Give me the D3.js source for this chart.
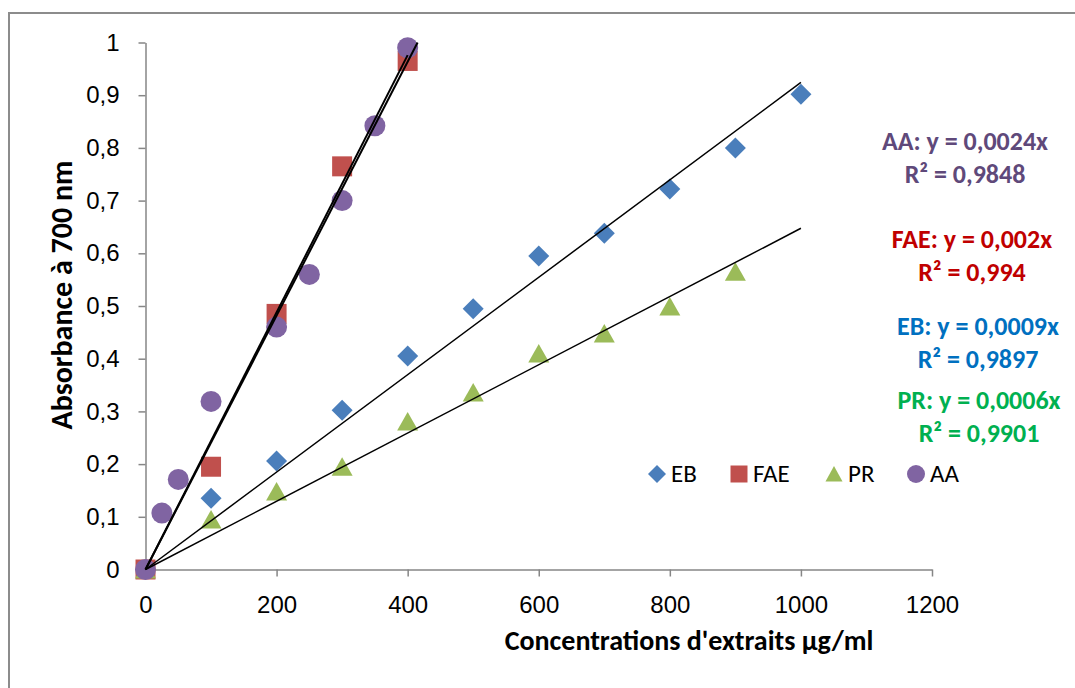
<!DOCTYPE html>
<html>
<head>
<meta charset="utf-8">
<script src="https://cdn.jsdelivr.net/npm/d3@7"></script>
<style>
  body { margin: 0; background: #fff; }
  svg { font-family: Carlito, Lato, sans-serif; }
  .axis path, .axis line { stroke: #868686; stroke-width: 1.5; }
  .axis text { font-size: 24px; fill: #000; }
</style>
</head>
<body>
<svg width="1075" height="688"></svg>
<script>
// series names and data (concentration µg/ml -> absorbance at 700 nm)
const seriesNames = ['EB', 'FAE', 'PR', 'AA'];
const ebX  = [0, 100, 200, 300, 400, 500, 600, 700, 800, 900, 1000];
const ebY  = [0, 0.135, 0.206, 0.302, 0.405, 0.495, 0.595, 0.638, 0.722, 0.800, 0.902];
const faeX = [0, 100, 200, 300, 400];
const faeY = [0, 0.195, 0.485, 0.765, 0.965];
const prX  = [0, 100, 200, 300, 400, 500, 600, 700, 800, 900];
const prY  = [0, 0.095, 0.148, 0.195, 0.281, 0.336, 0.410, 0.448, 0.499, 0.565];
const aaX  = [0, 25, 50, 100, 200, 250, 300, 350, 400];
const aaY  = [0, 0.107, 0.171, 0.319, 0.460, 0.560, 0.700, 0.842, 0.990];
// trendline (through origin) drawn up to this x
const trendEndX = [1000, 400, 1000, 420];

const xTicks = [0, 200, 400, 600, 800, 1000, 1200];
const yTicks = [0, 0.1, 0.2, 0.3, 0.4, 0.5, 0.6, 0.7, 0.8, 0.9, 1];

const equations = [
  ['AA: y = 0,0024x', 'R² = 0,9848'],
  ['FAE: y = 0,002x', 'R² = 0,994'],
  ['EB: y = 0,0009x', 'R² = 0,9897'],
  ['PR: y = 0,0006x', 'R² = 0,9901']
];

const colors = { EB: '#4a7ebb', FAE: '#c0504d', PR: '#9bbb59', AA: '#8064a2' };
const eqColors = ['#5f497a', '#c00000', '#0070c0', '#00b050'];

const svg = d3.select('svg');
const margin = {top: 42.5, right: 143, bottom: 118.5, left: 145.5};
const width = 1075 - margin.left - margin.right;
const height = 688 - margin.top - margin.bottom;

// chart area border
svg.append('rect')
  .attr('x', 9).attr('y', 13)
  .attr('width', 1100).attr('height', 700)
  .attr('fill', 'none')
  .attr('stroke', '#8c8c8c')
  .attr('stroke-width', 2);

const g = svg.append('g')
  .attr('transform', 'translate(' + margin.left + ',' + margin.top + ')');

const x = d3.scaleLinear().domain([0, 1200]).range([0, width]);
const y = d3.scaleLinear().domain([0, 1]).range([height, 0]);

const fmt = d => String(d).replace('.', ',');

g.append('g')
  .attr('class', 'axis')
  .attr('transform', 'translate(0,' + height + ')')
  .call(d3.axisBottom(x).tickValues(xTicks).tickSize(7).tickSizeOuter(0).tickPadding(12).tickFormat(d => d))
  .call(a => a.selectAll('text').attr('dy', '1em'));

g.append('g')
  .attr('class', 'axis')
  .call(d3.axisLeft(y).tickValues(yTicks).tickSize(7).tickSizeOuter(0).tickPadding(19).tickFormat(fmt));

// axis titles
svg.append('text')
  .attr('x', 689).attr('y', 650)
  .attr('text-anchor', 'middle')
  .style('font-size', '28px').style('font-weight', 'bold')
  .text("Concentrations d'extraits µg/ml");

svg.append('text')
  .attr('transform', 'translate(72,295) rotate(-90)')
  .attr('text-anchor', 'middle')
  .style('font-size', '30px').style('font-weight', 'bold')
  .text('Absorbance à 700 nm');

// marker shapes
function shape(name) {
  if (name === 'EB') return 'M0,-10.5L10.5,0L0,10.5L-10.5,0Z';
  if (name === 'FAE') return 'M-10,-10H10V10H-10Z';
  if (name === 'PR') return 'M0,-9.5L10.5,9L-10.5,9Z';
  return d3.arc()({innerRadius: 0, outerRadius: 10.5, startAngle: 0, endAngle: 2 * Math.PI});
}
function legendShape(name) {
  if (name === 'EB') return 'M0,-9L9,0L0,9L-9,0Z';
  if (name === 'FAE') return 'M-8.5,-8.5H8.5V8.5H-8.5Z';
  if (name === 'PR') return 'M0,-8L8.5,7.5L-8.5,7.5Z';
  return d3.arc()({innerRadius: 0, outerRadius: 9, startAngle: 0, endAngle: 2 * Math.PI});
}

const series = [
  {name: 'EB', xs: ebX, ys: ebY},
  {name: 'FAE', xs: faeX, ys: faeY},
  {name: 'PR', xs: prX, ys: prY},
  {name: 'AA', xs: aaX, ys: aaY}
];

series.forEach(s => {
  const pts = s.xs.map((v, i) => ({x: v, y: s.ys[i]}));
  g.append('g')
    .selectAll('path')
    .data(pts)
    .enter()
    .append('path')
    .attr('d', shape(s.name))
    .attr('transform', d => 'translate(' + x(d.x) + ',' + y(d.y) + ')')
    .attr('fill', colors[s.name]);
});

// linear trendlines through origin (least squares)
series.forEach((s, i) => {
  const sxy = d3.sum(s.xs, (v, k) => v * s.ys[k]);
  const sxx = d3.sum(s.xs, v => v * v);
  const slope = sxy / sxx;
  const xEnd = Math.min(trendEndX[i], 1 / slope);
  const line = d3.line().x(d => x(d[0])).y(d => y(d[1]));
  g.append('path')
    .datum([[0, 0], [xEnd, slope * xEnd]])
    .attr('d', line)
    .attr('stroke', '#000')
    .attr('stroke-width', (s.name === 'AA' || s.name === 'FAE') ? 2 : 1.5)
    .attr('fill', 'none');
});

// equations
const eqX = [965, 972, 978, 979];
const eqY = [150, 248, 335, 409];
equations.forEach((eq, i) => {
  const t = svg.append('text')
    .attr('text-anchor', 'middle')
    .style('font-size', '26px').style('font-weight', 'bold')
    .attr('fill', eqColors[i]);
  t.append('tspan').attr('x', eqX[i]).attr('y', eqY[i]).text(eq[0]);
  t.append('tspan').attr('x', eqX[i]).attr('y', eqY[i] + 33).text(eq[1]);
});

// legend
const legendX = [657, 739, 834, 916];
const leg = svg.append('g');
seriesNames.forEach((n, i) => {
  leg.append('path')
    .attr('d', legendShape(n))
    .attr('transform', 'translate(' + legendX[i] + ',474)')
    .attr('fill', colors[n]);
  leg.append('text')
    .attr('x', legendX[i] + 14).attr('y', 482)
    .style('font-size', '25px')
    .text(n);
});
</script>
</body>
</html>
